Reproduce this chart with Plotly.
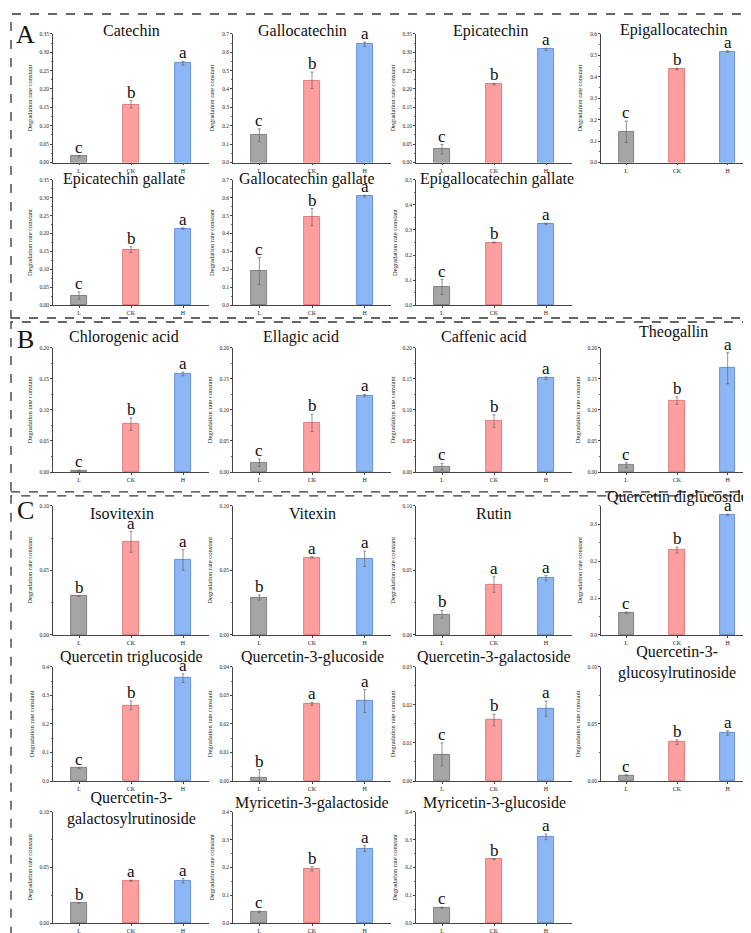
import plotly.graph_objects as go

categories = ["L", "CK", "H"]

names = ["Catechin", "Gallocatechin", "Epicatechin", "Epigallocatechin",
         "Epicatechin gallate", "Gallocatechin gallate", "Epigallocatechin gallate",
         "Chlorogenic acid", "Ellagic acid", "Caffenic acid", "Theogallin",
         "Isovitexin", "Vitexin", "Rutin", "Quercetin diglucoside",
         "Quercetin triglucoside", "Quercetin-3-glucoside", "Quercetin-3-galactoside",
         "Quercetin-3-<br>glucosylrutinoside",
         "Quercetin-3-<br>galactosylrutinoside", "Myricetin-3-galactoside", "Myricetin-3-glucoside"]

L_vals = [0.017, 0.148, 0.036, 0.143, 0.027, 0.190, 0.072,
          0.002, 0.015, 0.009, 0.011,
          0.030, 0.029, 0.016, 0.060,
          0.045, 0.001, 0.007, 0.005,
          0.018, 0.040, 0.055]
CK_vals = [0.158, 0.447, 0.213, 0.436, 0.155, 0.492, 0.250,
           0.077, 0.079, 0.082, 0.115,
           0.072, 0.060, 0.039, 0.230,
           0.265, 0.027, 0.016, 0.034,
           0.038, 0.195, 0.230]
H_vals = [0.270, 0.643, 0.308, 0.517, 0.214, 0.610, 0.324,
          0.158, 0.123, 0.151, 0.167,
          0.058, 0.059, 0.044, 0.325,
          0.360, 0.028, 0.019, 0.042,
          0.038, 0.268, 0.310]
L_err = [0.002, 0.035, 0.013, 0.050, 0.010, 0.075, 0.030,
         0.001, 0.006, 0.005, 0.004,
         0.000, 0.002, 0.003, 0.002,
         0.002, 0.003, 0.003, 0.0005,
         0.0005, 0.003, 0.002]
CK_err = [0.010, 0.045, 0.002, 0.003, 0.008, 0.048, 0.002,
          0.010, 0.014, 0.010, 0.006,
          0.008, 0.0005, 0.006, 0.008,
          0.015, 0.0005, 0.0015, 0.002,
          0.0005, 0.008, 0.002]
H_err = [0.005, 0.012, 0.003, 0.004, 0.002, 0.005, 0.003,
         0.003, 0.002, 0.002, 0.025,
         0.008, 0.006, 0.002, 0.002,
         0.015, 0.004, 0.002, 0.002,
         0.002, 0.010, 0.010]
letters_L = ["c"] * 11 + ["b", "b", "b", "c", "c", "b", "c", "c", "b", "c", "c"]
letters_CK = ["b"] * 11 + ["a", "a", "a", "b", "b", "a", "b", "b", "a", "b", "b"]
letters_H = ["a"] * 22

y_max = [0.35, 0.7, 0.35, 0.6, 0.35, 0.7, 0.5,
         0.20, 0.20, 0.20, 0.20,
         0.10, 0.10, 0.10, 0.35,
         0.4, 0.04, 0.03, 0.10,
         0.10, 0.4, 0.4]
y_step = [0.05, 0.1, 0.05, 0.1, 0.05, 0.1, 0.1,
          0.05, 0.05, 0.05, 0.05,
          0.05, 0.05, 0.05, 0.1,
          0.1, 0.01, 0.01, 0.05,
          0.05, 0.1, 0.1]

# ---------- layout (pixels) ----------
W, H = 751, 933
rows = {  # top, bottom of plot area, title centre
    "A1": (23, 152.5, 20),
    "A2": (170, 296, 169),
    "B": (339, 464, 328),
    "C1": (498, 628, 506),
    "C2": (660, 775, 650),
    "C3": (806, 918, 797),
}
cols = [(45, 201), (225, 383), (408, 564), (593, 745)]
panel_pos = [("A1", 0), ("A1", 1), ("A1", 2), ("A1", 3),
             ("A2", 0), ("A2", 1), ("A2", 2),
             ("B", 0), ("B", 1), ("B", 2), ("B", 3),
             ("C1", 0), ("C1", 1), ("C1", 2), ("C1", 3),
             ("C2", 0), ("C2", 1), ("C2", 2), ("C2", 3),
             ("C3", 0), ("C3", 1), ("C3", 2)]
title_dy = {3: -1, 10: -5, 14: -17, 18: 6, 19: 6}
title_dx = {1: -10, 2: -3, 3: -3, 4: -7, 5: -6, 6: 3, 7: -7, 8: -11, 9: -11,
            10: -4, 11: -9}

fill = ["#a5a5a5", "#ff9e9e", "#8db6f4"]
edge = ["#6e6e6e", "#d86a6a", "#4f80cc"]
serif = "Liberation Serif"

fig = go.Figure()
annotations = []
for i, name in enumerate(names):
    rk, ci = panel_pos[i]
    top, bot, ty = rows[rk]
    left, right = cols[ci]
    xa = "x" if i == 0 else f"x{i+1}"
    ya = "y" if i == 0 else f"y{i+1}"
    vals = [L_vals[i], CK_vals[i], H_vals[i]]
    errs = [L_err[i], CK_err[i], H_err[i]]
    fig.add_trace(go.Bar(
        x=categories, y=vals, width=0.3,
        marker=dict(color=fill, line=dict(color=edge, width=0.8)),
        error_y=dict(type="data", array=errs, visible=True, thickness=0.7,
                     width=1.5, color="#666"),
        xaxis=xa, yaxis=ya, showlegend=False))
    step = y_step[i]
    fmt = ".1f" if step >= 0.1 else ".2f"
    fig.update_layout(**{
        ("xaxis" if i == 0 else f"xaxis{i+1}"): dict(
            domain=[left / W, right / W], anchor=ya, range=[-0.5, 2.5],
            showline=True, linecolor="#444", linewidth=0.8,
            ticks="outside", ticklen=2, tickwidth=0.6, tickcolor="#444",
            tickfont=dict(size=6, family=serif, color="#222"),
            showgrid=False, zeroline=False, fixedrange=True),
        ("yaxis" if i == 0 else f"yaxis{i+1}"): dict(
            domain=[1 - bot / H, 1 - top / H], anchor=xa,
            range=[0, y_max[i]], dtick=step, tick0=0, tickformat=fmt,
            showline=True, linecolor="#444", linewidth=0.8,
            ticks="outside", ticklen=2, tickwidth=0.6, tickcolor="#444",
            minor=dict(ticks="outside", ticklen=1.2, dtick=step / 2, tickcolor="#666"),
            tickfont=dict(size=5.5, family=serif, color="#222"),
            title=dict(text="Degradation rate constant", standoff=6,
                       font=dict(size=6.5, family=serif, color="#222")),
            showgrid=False, zeroline=False, fixedrange=True),
    })
    # panel title
    annotations.append(dict(
        text=name, x=((left + right) / 2 + title_dx.get(i, 0)) / W,
        y=1 - (ty + title_dy.get(i, 0)) / H,
        xref="paper", yref="paper", xanchor="center", yanchor="middle",
        showarrow=False, font=dict(size=16, family=serif, color="#111")))
    # significance letters
    lets = [letters_L[i], letters_CK[i], letters_H[i]]
    for k, cat in enumerate(categories):
        annotations.append(dict(
            text=lets[k], x=cat, y=vals[k] + errs[k], xref=xa, yref=ya,
            xanchor="center", yanchor="bottom", yshift=-3, showarrow=False,
            font=dict(size=17, family=serif, color="#111")))

# section letters
for lab, ly in [("A", 24), ("B", 331), ("C", 503)]:
    annotations.append(dict(text=lab, x=17 / W, y=1 - ly / H, xref="paper", yref="paper",
                            xanchor="center", yanchor="middle", showarrow=False,
                            font=dict(size=26, family=serif, color="#111")))

# dashed section boxes
shapes = []
for (y0, y1) in [(3, 309), (313, 484), (488, 930)]:
    shapes.append(dict(type="rect", xref="paper", yref="paper",
                       x0=3 / W, x1=747 / W, y0=1 - y1 / H, y1=1 - y0 / H,
                       line=dict(color="#333", width=1.3, dash="dash")))

fig.update_layout(width=W, height=H, margin=dict(l=0, r=0, t=0, b=0),
                  paper_bgcolor="white", plot_bgcolor="white",
                  bargap=0.0, annotations=annotations, shapes=shapes,
                  font=dict(family=serif))
fig.write_html("out.html")
